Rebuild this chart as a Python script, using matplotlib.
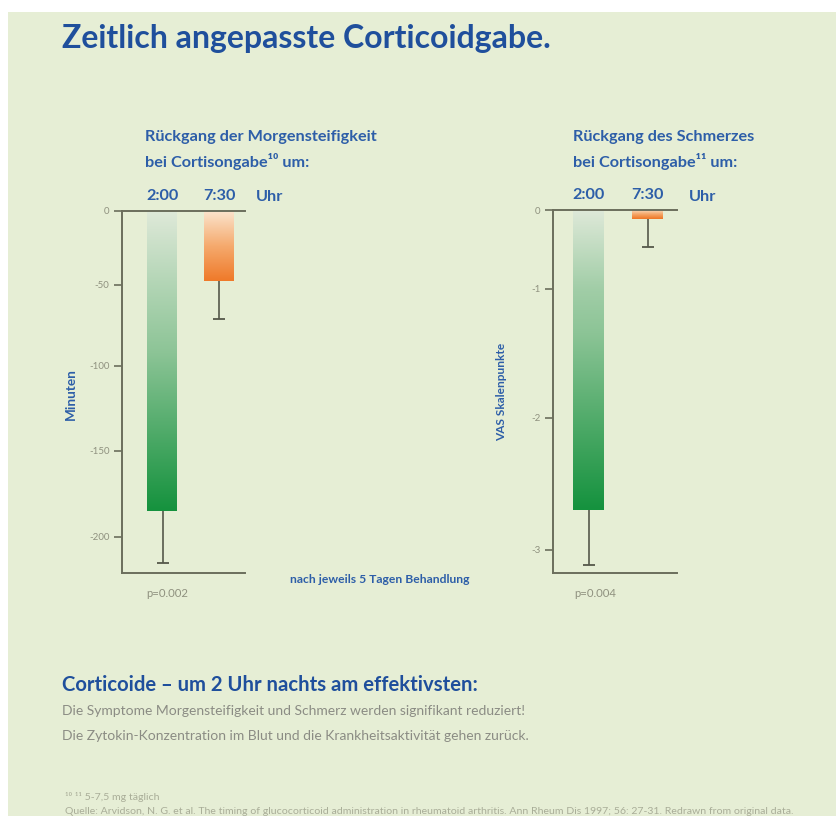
import matplotlib
matplotlib.use('Agg')
import matplotlib.pyplot as plt
import numpy as np
from matplotlib import font_manager
from matplotlib.colors import LinearSegmentedColormap
from matplotlib.patches import Rectangle

# ---------------- data ----------------
times = ['2:00', '7:30']
stiffness_change = [-185, -47]      # Minuten
stiffness_err = [30, 24]
pain_change = [-2.70, -0.12]        # VAS Skalenpunkte
pain_err = [0.41, 0.35]
stiffness_ticks = [0, -50, -100, -150, -200]
pain_ticks = [0, -1, -2, -3]
p_values = ['p=0.002', 'p=0.004']

# ---------------- style ----------------
def has_font(name):
    try:
        font_manager.findfont(font_manager.FontProperties(family=name), fallback_to_default=False)
        return True
    except Exception:
        return False

FONT = 'Liberation Sans Narrow' if has_font('Liberation Sans Narrow') else 'Lato'
plt.rcParams['font.family'] = [FONT, 'DejaVu Sans']
plt.rcParams['axes.unicode_minus'] = False

BG = '#e6eed5'
TITLE_BLUE = '#1f4f9c'
BLUE = '#2d5ea8'
GRAY = '#8b8c84'
AXIS = '#6b6e5c'
TICKGRAY = '#8f917f'
ERR = '#55584a'
GREEN = ['#dfe9d9', '#8cc496', '#15923e']
ORANGE = ['#fbe4cd', '#f5aa6e', '#ef7a2a']

W, H = 836, 816
fig = plt.figure(figsize=(W / 100, H / 100), dpi=100, facecolor='white')
renderer = fig.canvas.get_renderer()


def fx(px):
    return px / W


def fy(py):
    return 1 - py / H


fig.add_artist(Rectangle((fx(8), 0), 1 - fx(8), fy(12), transform=fig.transFigure,
                         facecolor=BG, edgecolor='none', zorder=-10))


def fit_width(t, target, vertical=False):
    for _ in range(3):
        bb = t.get_window_extent(renderer)
        w = bb.height if vertical else bb.width
        t.set_fontsize(t.get_fontsize() * target / w)
    return t.get_fontsize()


def _interp_ext(x, xp, fp):
    x = np.asarray(x, float)
    y = np.interp(x, xp, fp)
    s_lo = (fp[1] - fp[0]) / (xp[1] - xp[0])
    s_hi = (fp[-1] - fp[-2]) / (xp[-1] - xp[-2])
    y = np.where(x < xp[0], fp[0] + (x - xp[0]) * s_lo, y)
    y = np.where(x > xp[-1], fp[-1] + (x - xp[-1]) * s_hi, y)
    return y


def piecewise_scale(values, pix):
    v = np.asarray(values, float)
    p = -np.asarray(pix, float)
    return (lambda x: _interp_ext(x, v, p)), (lambda y: _interp_ext(y, p, v))


def gradient_bars(ax, bars, colors):
    cmap = LinearSegmentedColormap.from_list('g', colors)
    grad = np.linspace(0, 1, 256).reshape(-1, 1)
    for b in bars:
        x0, w = b.get_x(), b.get_width()
        y0, h = b.get_y(), b.get_height()
        im = ax.imshow(grad, extent=(x0, x0 + w, y0 + h, y0), origin='upper',
                       aspect='auto', cmap=cmap, zorder=2, interpolation='bilinear')
        im.set_clip_path(b)


def panel(rect, values, errs, ticks, ylim, xlim, width, scale_vals, scale_pix):
    ax = fig.add_axes(rect)
    ax.set_facecolor('none')
    fwd, inv = piecewise_scale(scale_vals, scale_pix)
    ax.set_yscale('function', functions=(fwd, inv))
    x = np.arange(len(values))
    bars = ax.bar(x, values, width=width, color='none', edgecolor='none', zorder=2)
    gradient_bars(ax, bars[:1], GREEN)
    gradient_bars(ax, bars[1:], ORANGE)
    lows = np.asarray(values) - np.asarray(errs)
    ax.vlines(x, values, lows, color=ERR, lw=1.2, zorder=3)
    ax.plot(x, lows, ls='none', marker='_', ms=9, mew=1.3, color=ERR, zorder=3)
    ax.set_xlim(*xlim)
    ax.set_ylim(*ylim)
    for s in ['left', 'top', 'bottom']:
        ax.spines[s].set_color(AXIS)
        ax.spines[s].set_linewidth(1.4)
    ax.spines['right'].set_visible(False)
    ax.set_yticks(ticks, labels=[str(t) for t in ticks])
    ax.yaxis.set_minor_locator(matplotlib.ticker.NullLocator())
    ax.tick_params(axis='y', direction='out', length=6, width=1.2, color=AXIS,
                   labelsize=7, labelcolor=TICKGRAY, pad=3)
    ax.xaxis.set_ticks_position('top')
    ax.set_xticks(x, labels=times)
    ax.tick_params(axis='x', length=0, pad=6, labelsize=9.5, labelcolor=BLUE)
    for lab in ax.get_xticklabels():
        lab.set_fontweight('bold')
    return ax


axL = panel([fx(122), fy(573), fx(123), 362 / H], stiffness_change, stiffness_err,
            stiffness_ticks, (-221, 0), (-0.726, 1.463), 0.55,
            [-221, -200, -150, -100, -50, 0], [573, 537, 451, 366, 285, 211])
axR = panel([fx(553), fy(573), fx(124), 363 / H], pain_change, pain_err,
            pain_ticks, (-3.17, 0), (-0.607, 1.50), 0.53,
            [-3.17, -3, -2, -1, 0], [573, 550, 418, 289, 210])

ylL = axL.set_ylabel('Minuten', color=BLUE, fontsize=8, fontweight='bold')
axL.yaxis.set_label_coords(-0.366, 0.494)
fit_width(ylL, 52, vertical=True)
ylR = axR.set_ylabel('VAS Skalenpunkte', color=BLUE, fontsize=8, fontweight='bold')
axR.yaxis.set_label_coords(-0.371, 0.50)
fit_width(ylR, 98, vertical=True)

# ---------------- texts ----------------
title = fig.text(fx(62), fy(48), 'Zeitlich angepasste Corticoidgabe.', color=TITLE_BLUE,
                 fontsize=24, fontweight='bold', va='baseline')
fit_width(title, 490)

h1 = fig.text(fx(573), fy(141), 'Rückgang des Schmerzes', color=BLUE, fontsize=10,
              fontweight='bold', va='baseline')
hs = fit_width(h1, 181)
fig.text(fx(573), fy(167), 'bei Cortisongabe¹¹ um:', color=BLUE, fontsize=hs,
         fontweight='bold', va='baseline')
fig.text(fx(145), fy(141), 'Rückgang der Morgensteifigkeit', color=BLUE, fontsize=hs,
         fontweight='bold', va='baseline')
fig.text(fx(145), fy(167), 'bei Cortisongabe¹⁰ um:', color=BLUE, fontsize=hs,
         fontweight='bold', va='baseline')
for ax in (axL, axR):
    ax.tick_params(axis='x', labelsize=hs)
fig.text(fx(270), fy(201), 'Uhr', color=BLUE, fontsize=hs, fontweight='bold',
         va='baseline', ha='center')
fig.text(fx(703), fy(201), 'Uhr', color=BLUE, fontsize=hs, fontweight='bold',
         va='baseline', ha='center')

pv = fig.text(fx(167), fy(597), p_values[0], color=TICKGRAY, fontsize=7, ha='center', va='baseline')
ps = fit_width(pv, 42)
fig.text(fx(595), fy(597), p_values[1], color=TICKGRAY, fontsize=ps, ha='center', va='baseline')
nt = fig.text(fx(290), fy(583), 'nach jeweils 5 Tagen Behandlung', color=BLUE, fontsize=7,
              fontweight='bold', va='baseline')
fit_width(nt, 180)

sub = fig.text(fx(62), fy(691), 'Corticoide – um 2 Uhr nachts am effektivsten:', color=TITLE_BLUE,
               fontsize=15, fontweight='bold', va='baseline')
fit_width(sub, 414)
b1 = fig.text(fx(62), fy(715), 'Die Symptome Morgensteifigkeit und Schmerz werden signifikant reduziert!',
              color=GRAY, fontsize=10, va='baseline')
bs = fit_width(b1, 461)
fig.text(fx(62), fy(740), 'Die Zytokin-Konzentration im Blut und die Krankheitsaktivität gehen zurück.',
         color=GRAY, fontsize=bs, va='baseline')

FOOT = '#a9ad98'
f2 = fig.text(fx(65), fy(814), 'Quelle: Arvidson, N. G. et al. The timing of glucocorticoid administration in '
              'rheumatoid arthritis. Ann Rheum Dis 1997; 56: 27-31. Redrawn from original data.',
              color=FOOT, fontsize=5, va='baseline')
fs = fit_width(f2, 725)
fig.text(fx(65), fy(800), '¹⁰ ¹¹ 5-7,5 mg täglich', color=FOOT, fontsize=fs, va='baseline')

fig.savefig('out.png', dpi=100, facecolor='white')
